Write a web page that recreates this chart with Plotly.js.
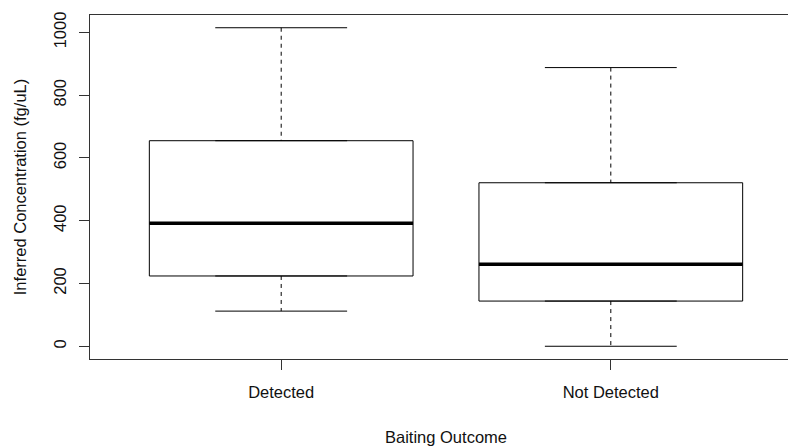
<!DOCTYPE html>
<html>
<head>
<meta charset="utf-8">
<script src="https://cdn.plot.ly/plotly-3.0.1.min.js"></script>
<style>
html, body { margin: 0; padding: 0; overflow: hidden; background: #fff; }
#chart { width: 812px; height: 446px; }
</style>
</head>
<body>
<div id="chart"></div>
<script>
// Data
const categories = ["Detected", "Not Detected"];
const lowerWhisker = [112, 0];
const q1 = [224, 144];
const median = [392, 261];
const q3 = [655, 521];
const upperWhisker = [1015, 888];
const yTicks = [0, 200, 400, 600, 800, 1000];

const boxWidth = 0.8;
const capWidth = 0.4;
const positions = categories.map((c, i) => i + 1);

const traces = [];
categories.forEach((cat, i) => {
  const x = positions[i];
  // Box body (no whiskers here; drawn dashed below)
  traces.push({
    type: 'box', x: [x], q1: [q1[i]], median: [median[i]], q3: [q3[i]],
    lowerfence: [q1[i]], upperfence: [q3[i]],
    width: boxWidth, fillcolor: 'rgba(255,255,255,0)',
    line: { color: '#000', width: 1 }, boxpoints: false,
    hoverinfo: 'skip', showlegend: false, name: cat
  });
  // Dashed whiskers
  traces.push({
    type: 'scatter', mode: 'lines',
    x: [x, x, null, x, x],
    y: [upperWhisker[i], q3[i], null, q1[i], lowerWhisker[i]],
    line: { color: '#000', width: 1, dash: '4px,4px' },
    hoverinfo: 'skip', showlegend: false
  });
  // Staples
  traces.push({
    type: 'scatter', mode: 'lines',
    x: [x - capWidth / 2, x + capWidth / 2, null, x - capWidth / 2, x + capWidth / 2],
    y: [upperWhisker[i], upperWhisker[i], null, lowerWhisker[i], lowerWhisker[i]],
    line: { color: '#000', width: 1 },
    hoverinfo: 'skip', showlegend: false
  });
  // Thick median
  traces.push({
    type: 'scatter', mode: 'lines',
    x: [x - boxWidth / 2, x + boxWidth / 2],
    y: [median[i], median[i]],
    line: { color: '#000', width: 3.5 },
    hoverinfo: 'skip', showlegend: false
  });
});

const yMin = Math.min(...lowerWhisker), yMax = Math.max(...upperWhisker);
const yPad = (yMax - yMin) * 0.04;
const xPad = categories.length * 0.04;

const font = { family: 'Liberation Sans, Arial, sans-serif', size: 16.5, color: '#111' };

const layout = {
  width: 812, height: 446,
  margin: { l: 90, r: 10, t: 15, b: 87 },
  paper_bgcolor: '#fff', plot_bgcolor: '#fff',
  font: font,
  xaxis: {
    type: 'linear',
    range: [0.5 - xPad, categories.length + 0.5 + xPad],
    tickvals: positions, ticktext: categories,
    ticks: 'outside', ticklen: 10, tickcolor: '#333', tickwidth: 1,
    showline: true, linecolor: '#333', linewidth: 1, mirror: true,
    showgrid: false, zeroline: false,
    tickfont: font, ticklabelstandoff: 8,
    title: { text: 'Baiting Outcome', font: font, standoff: 31 },
    automargin: false
  },
  yaxis: {
    range: [yMin - yPad, yMax + yPad],
    tickvals: yTicks, ticktext: yTicks.map(String),
    ticks: 'outside', ticklen: 10, tickcolor: '#333', tickwidth: 1,
    showline: true, linecolor: '#333', linewidth: 1, mirror: true,
    showgrid: false, zeroline: false,
    tickangle: -90, tickfont: font, ticklabelstandoff: 6,
    title: { text: 'Inferred Concentration (fg/uL)', font: font, standoff: 20 },
    automargin: false
  }
};

Plotly.newPlot('chart', traces, layout, { displayModeBar: false, staticPlot: true });
</script>
</body>
</html>
